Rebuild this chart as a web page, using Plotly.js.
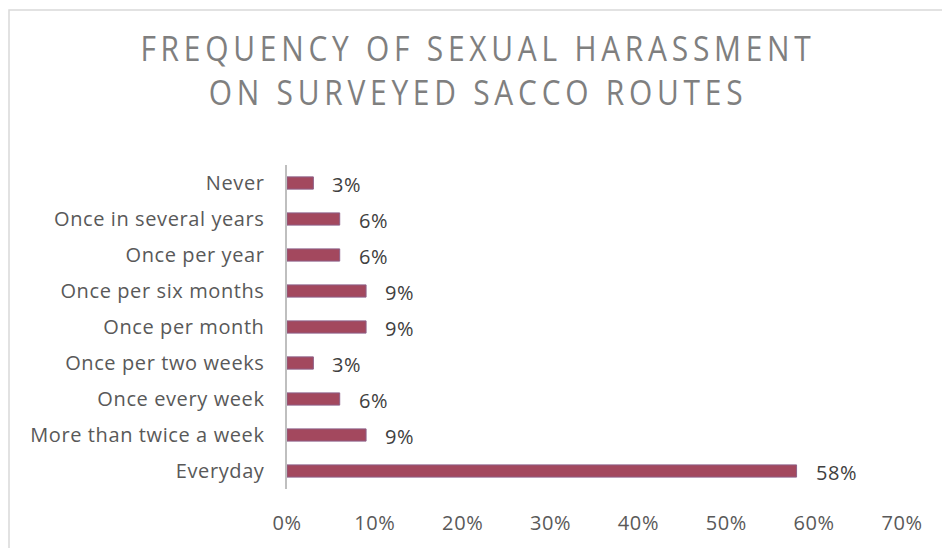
<!DOCTYPE html>
<html>
<head>
<meta charset="utf-8">
<script src="https://cdn.plot.ly/plotly-3.0.1.min.js"></script>
<style>
  html, body { margin: 0; padding: 0; background: #fff; }
  #chart { width: 942px; height: 548px; }
  .gtitle {
    letter-spacing: 5.4px;
    transform-box: fill-box;
    transform-origin: center;
    transform: scaleX(0.88);
  }
  .ytick text, .xtick text, .annotation-text { letter-spacing: 0.6px; }
</style>
</head>
<body>
<div id="chart"></div>
<script>
// Data (top to bottom as displayed)
const categories = [
  "Never",
  "Once in several years",
  "Once per year",
  "Once per six months",
  "Once per month",
  "Once per two weeks",
  "Once every week",
  "More than twice a week",
  "Everyday"
];
const values = [3, 6, 6, 9, 9, 3, 6, 9, 58];
const valueLabels = ["3%", "6%", "6%", "9%", "9%", "3%", "6%", "9%", "58%"];
const xTickValues = [0, 10, 20, 30, 40, 50, 60, 70];
const xTickLabels = ["0%", "10%", "20%", "30%", "40%", "50%", "60%", "70%"];
const chartTitle = "FREQUENCY OF SEXUAL HARASSMENT<br>ON SURVEYED SACCO ROUTES";

const W = 942, H = 548;
const L = 287, R = 40, T = 165, B = 59;
const pw = W - L - R, ph = H - T - B;
const FONT = "'Open Sans', Lato, sans-serif";

const trace = {
  type: "bar",
  orientation: "h",
  x: values,
  y: categories,
  marker: { color: "#a3485e", line: { color: "#8d6088", width: 1 } },
  width: 0.34,
  hoverinfo: "none"
};

const annotations = values.map((v, i) => ({
  x: v, y: categories[i], xref: "x", yref: "y",
  text: valueLabels[i], showarrow: false,
  xanchor: "left", yanchor: "middle", xshift: 17, yshift: -1,
  font: { family: FONT, size: 20, color: "#404040" }
}));

const layout = {
  width: W, height: H,
  margin: { l: L, r: R, t: T, b: B, pad: 0 },
  paper_bgcolor: "#ffffff",
  plot_bgcolor: "#ffffff",
  showlegend: false,
  title: {
    text: chartTitle,
    x: 478 / W, xanchor: "center",
    y: 1 - 61 / H, yanchor: "top",
    font: { family: FONT, size: 34, color: "#7f7f7f", weight: 400 }
  },
  xaxis: {
    range: [0, 70],
    tickvals: xTickValues, ticktext: xTickLabels,
    showgrid: false, zeroline: false, showline: false,
    ticks: "outside", ticklen: 16, tickcolor: "rgba(0,0,0,0)",
    tickfont: { family: FONT, size: 20, color: "#595959" },
    fixedrange: true
  },
  yaxis: {
    type: "category",
    autorange: "reversed",
    showgrid: false, zeroline: false,
    showline: true, linecolor: "#bfbfbf", linewidth: 2.5,
    ticks: "outside", ticklen: 16, tickcolor: "rgba(0,0,0,0)",
    tickfont: { family: FONT, size: 20, color: "#595959" },
    fixedrange: true
  },
  annotations: annotations,
  shapes: [{
    type: "rect", xref: "paper", yref: "paper",
    x0: (9 - L) / pw, x1: (W + 5 - L) / pw,
    y0: (H - B - (H + 5)) / ph, y1: (H - B - 10) / ph,
    line: { color: "#d9d9d9", width: 1.5 }, fillcolor: "rgba(0,0,0,0)",
    layer: "below"
  }]
};

Plotly.newPlot("chart", [trace], layout, { displayModeBar: false, staticPlot: true });
</script>
</body>
</html>
